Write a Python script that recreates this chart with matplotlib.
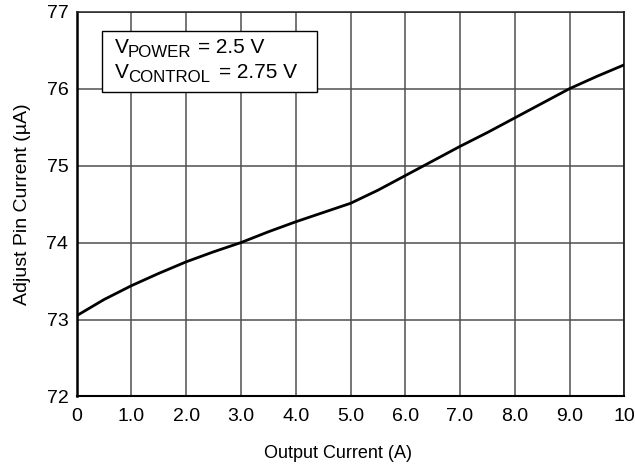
import matplotlib
matplotlib.use('Agg')
import matplotlib.pyplot as plt
from matplotlib.patches import Rectangle

plt.rcParams['font.family'] = ['Liberation Sans', 'DejaVu Sans']

output_current = [0, 0.5, 1, 1.5, 2, 2.5, 3, 3.5, 4, 4.5, 5, 5.5, 6, 6.5, 7, 7.5, 8, 8.5, 9, 9.5, 10]
adjust_current = [73.05, 73.26, 73.44, 73.6, 73.75, 73.88, 74.0, 74.14, 74.27, 74.39, 74.51,
                  74.68, 74.87, 75.06, 75.25, 75.43, 75.62, 75.81, 76.0, 76.16, 76.31]

x_ticks = [0, 1, 2, 3, 4, 5, 6, 7, 8, 9, 10]
x_labels = ['0', '1.0', '2.0', '3.0', '4.0', '5.0', '6.0', '7.0', '8.0', '9.0', '10']
y_ticks = [72, 73, 74, 75, 76, 77]

fig = plt.figure(figsize=(6.35, 4.67), dpi=100)
ax = fig.add_axes([0.1208, 0.151, 0.8624, 0.824])

ax.plot(output_current, adjust_current, color='black', lw=2.0, zorder=3)

ax.set_xlim(0, 10)
ax.set_ylim(72, 77)
ax.set_xticks(x_ticks)
ax.set_xticklabels(x_labels)
ax.set_yticks(y_ticks)
ax.grid(True, color='#505050', lw=1.1)
ax.tick_params(length=0, labelsize=14, pad=6)
ax.tick_params(axis='x', pad=8)
for s in ax.spines.values():
    s.set_color('#222222')
    s.set_linewidth(1.1)
ax.spines['left'].set_linewidth(1.8)
ax.spines['left'].set_color('black')
ax.spines['bottom'].set_linewidth(1.5)
ax.spines['bottom'].set_color('black')
ax.spines['right'].set_linewidth(1.3)

ax.set_xlabel('Output Current (A)', fontsize=13, labelpad=15, x=0.477)
ax.set_ylabel('Adjust Pin Current (µA)', fontsize=14, labelpad=11)

# Kasten mit Bedingungen
ax.add_patch(Rectangle((0.0467, 0.7913), 0.4383 - 0.0467, 0.9498 - 0.7913,
                       transform=ax.transAxes, fc='white', ec='black', lw=1.0, zorder=4))
kw = dict(transform=ax.transAxes, ha='left', va='baseline', zorder=5)
ax.text(0.069, 0.8919, 'V', fontsize=15, **kw)
ax.text(0.0937, 0.881, 'POWER', fontsize=12.2, **kw)
ax.text(0.2215, 0.8919, '= 2.5 V', fontsize=15, **kw)
ax.text(0.069, 0.8269, 'V', fontsize=15, **kw)
ax.text(0.0937, 0.816, 'CONTROL', fontsize=12.2, **kw)
ax.text(0.2599, 0.8269, '= 2.75 V', fontsize=15, **kw)

fig.savefig('out.png', dpi=100)
